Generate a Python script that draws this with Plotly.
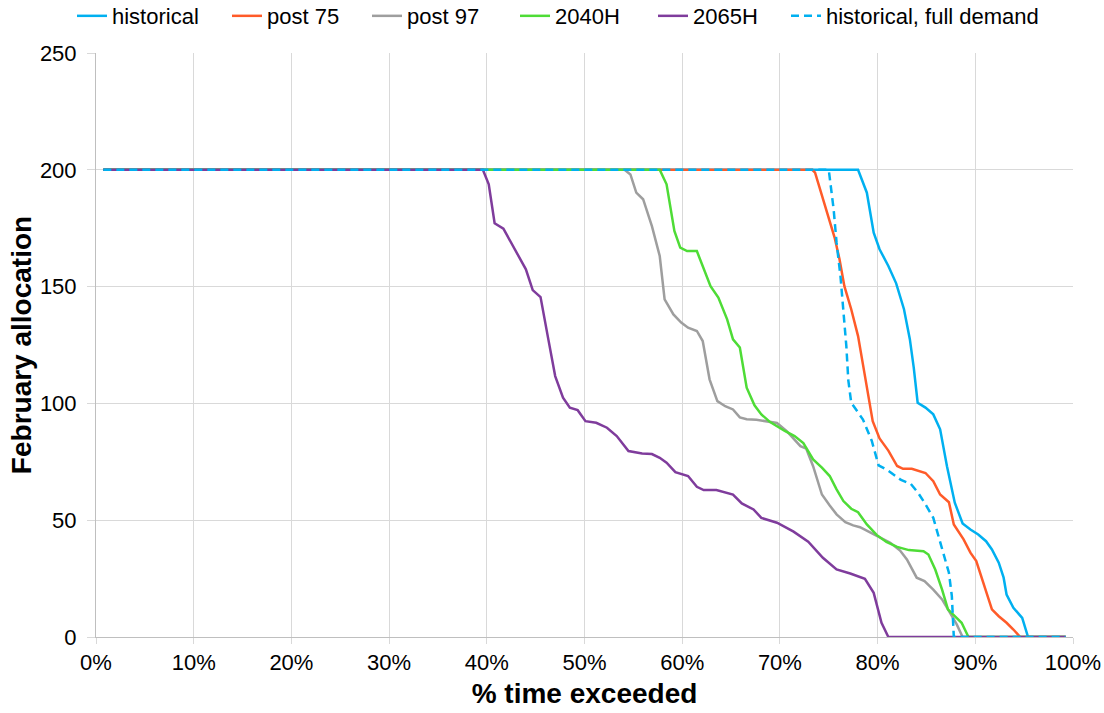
import plotly.graph_objects as go

# ---- data ----
historical_x = [0.75, 78.0, 78.9, 79.6, 80.2, 81.1, 81.9, 82.7, 83.3, 83.7, 84.1, 84.9, 85.7, 86.4, 87.1, 87.9, 88.7, 89.5, 90.3, 91.1, 91.7, 92.4, 92.9, 93.2, 93.9, 94.8, 95.4, 99.25]
historical_y = [200, 200, 190.2, 173.1, 166.0, 158.8, 151.4, 140.3, 127.5, 115.3, 100.3, 98.2, 95.3, 88.9, 73.1, 57.5, 48.6, 46.0, 43.9, 41.0, 37.5, 31.8, 25.4, 18.2, 12.5, 8.2, 0, 0]

post75_x = [0.75, 73.3, 73.6, 74.3, 75.0, 75.6, 76.1, 76.6, 77.3, 78.0, 78.5, 79.0, 79.5, 80.2, 81.1, 82.0, 82.6, 83.5, 84.9, 85.7, 86.4, 87.3, 87.8, 88.8, 89.5, 90.1, 90.8, 91.7, 92.4, 93.2, 93.9, 94.6, 99.25]
post75_y = [200, 200, 198.8, 188.8, 178.8, 171.0, 161.7, 150.2, 140.3, 128.8, 116.7, 104.6, 92.4, 85.0, 79.8, 73.2, 72.0, 72.0, 70.2, 66.7, 61.0, 57.7, 48.2, 41.8, 36.1, 32.5, 23.2, 11.8, 8.9, 6.1, 3.2, 0, 0]

post97_x = [0.75, 54.1, 54.7, 55.3, 56.0, 56.9, 57.7, 58.2, 59.1, 59.9, 60.6, 61.5, 62.1, 62.8, 63.6, 64.4, 65.2, 65.9, 66.6, 67.6, 69.7, 70.7, 72.1, 72.7, 73.4, 74.3, 75.1, 75.8, 76.7, 77.5, 78.2, 79.0, 79.9, 81.3, 82.3, 83.0, 84.0, 84.8, 85.7, 86.6, 87.4, 88.1, 88.7, 99.25]
post97_y = [200, 200, 198, 190.2, 187.4, 175.9, 163.1, 144.5, 138.1, 134.6, 132.4, 131.0, 126.7, 110.3, 101.0, 98.8, 97.4, 94.0, 93.2, 93.0, 91.6, 88.1, 81.7, 80.6, 73.1, 61.0, 56.3, 52.5, 49.2, 47.8, 47.0, 45.3, 43.2, 40.3, 37.0, 33.2, 25.4, 23.9, 20.3, 16.1, 10.4, 5.4, 0, 0]

h2040_x = [0.75, 57.7, 58.4, 58.8, 59.2, 59.8, 60.5, 61.5, 62.2, 62.9, 63.7, 64.6, 65.2, 65.9, 66.6, 67.4, 68.1, 69.0, 70.5, 71.5, 72.4, 73.4, 74.3, 75.1, 75.8, 76.5, 77.3, 78.0, 78.9, 79.9, 80.9, 82.0, 83.2, 84.7, 85.2, 85.9, 86.6, 87.2, 87.9, 88.6, 89.3, 99.25]
h2040_y = [200, 200, 193.8, 184.5, 173.8, 166.7, 165.2, 165.2, 157.4, 150.2, 145.3, 136.0, 127.4, 123.9, 106.7, 99.2, 95.3, 92.0, 88.2, 86.0, 83.0, 76.0, 72.5, 68.9, 63.2, 58.2, 54.9, 53.4, 48.2, 43.7, 40.7, 38.6, 37.2, 36.7, 35.3, 28.9, 20.3, 11.8, 8.9, 6.1, 0, 0]

h2065_x = [0.75, 39.6, 40.2, 40.8, 41.7, 42.5, 43.2, 44.0, 44.7, 45.5, 46.3, 47.0, 47.8, 48.5, 49.3, 50.1, 51.2, 52.3, 53.3, 54.5, 55.9, 56.9, 57.7, 58.4, 59.3, 60.6, 61.5, 62.2, 63.5, 65.2, 66.1, 67.3, 68.1, 69.7, 71.4, 72.9, 74.4, 75.8, 77.2, 78.7, 79.6, 80.4, 81.1, 99.25]
h2065_y = [200, 200, 193.8, 177.1, 174.8, 168.8, 163.1, 157.4, 148.5, 145.5, 127.4, 111.7, 102.4, 98.2, 97.1, 92.4, 91.7, 89.6, 86.0, 79.6, 78.6, 78.3, 76.7, 74.6, 70.6, 68.9, 64.3, 62.9, 62.9, 61.0, 57.2, 54.6, 51.0, 48.9, 45.1, 40.8, 33.9, 28.9, 27.2, 24.9, 18.9, 6.1, 0, 0]

fulldem_x = [0.75, 75.0, 75.5, 75.8, 76.2, 76.5, 76.8, 77.0, 77.3, 78.5, 79.4, 80.1, 81.1, 82.4, 83.4, 84.1, 84.8, 85.7, 86.2, 86.7, 87.3, 87.6, 87.8, 99.25]
fulldem_y = [200, 200, 183.1, 168.8, 154.5, 140.3, 124.5, 110.0, 100.3, 93.1, 84.0, 73.5, 71.2, 67.2, 65.5, 62.0, 57.5, 51.0, 44.0, 36.1, 27.5, 17.5, 0, 0]

x_ticks = [0, 10, 20, 30, 40, 50, 60, 70, 80, 90, 100]
x_tick_labels = ["0%", "10%", "20%", "30%", "40%", "50%", "60%", "70%", "80%", "90%", "100%"]
y_ticks = [0, 50, 100, 150, 200, 250]

series = [
    ("historical", historical_x, historical_y, "#00B0F0", "solid"),
    ("post 75", post75_x, post75_y, "#FF5B29", "solid"),
    ("post 97", post97_x, post97_y, "#9E9E9E", "solid"),
    ("2040H", h2040_x, h2040_y, "#4EDC36", "solid"),
    ("2065H", h2065_x, h2065_y, "#7F3C9C", "solid"),
    ("historical, full demand", fulldem_x, fulldem_y, "#00B0F0", "8px,5px"),
]

# legend text start pixel positions
legend_text_px = [113, 268, 408, 556, 694, 827]

W, H = 1104, 713
ml, mt = 96, 53
mr = W - 1073
mb = H - 637.5
pw = W - ml - mr
ph = H - mt - mb

FONT = "Liberation Sans, Arial, sans-serif"

fig = go.Figure()
layout_legends = {}
for i, (name, xs, ys, col, dash) in enumerate(series):
    lname = "legend" if i == 0 else f"legend{i+1}"
    fig.add_trace(go.Scatter(
        x=xs, y=ys, mode="lines", name=name,
        line=dict(color=col, width=2.5, dash=dash),
        legend=lname, hoverinfo="skip",
    ))
    left_px = legend_text_px[i] - 41
    layout_legends[lname] = dict(
        x=(left_px - ml) / pw, xanchor="left", xref="paper",
        y=(H - mb - 16) / ph, yanchor="middle", yref="paper",
        font=dict(family=FONT, size=22, color="#000000"),
        bgcolor="rgba(0,0,0,0)", borderwidth=0,
    )

fig.update_layout(
    width=W, height=H,
    margin=dict(l=ml, r=mr, t=mt, b=mb, autoexpand=False),
    paper_bgcolor="white", plot_bgcolor="white",
    showlegend=True,
    font=dict(family=FONT, color="#000000"),
    **layout_legends,
)

fig.update_xaxes(
    range=[0, 100], tickvals=x_ticks, ticktext=x_tick_labels,
    showgrid=True, gridcolor="#D9D9D9", gridwidth=1,
    showline=True, linecolor="#BFBFBF", linewidth=1,
    ticks="outside", ticklen=6, tickcolor="#D9D9D9",
    tickfont=dict(family=FONT, size=22, color="#000000"),
    ticklabeloverflow="allow",
    zeroline=False, automargin=False,
    title=dict(text="<b>% time exceeded</b>", font=dict(family=FONT, size=28, color="#000000"), standoff=8),
)
fig.update_yaxes(
    range=[0, 250], tickvals=y_ticks,
    showgrid=True, gridcolor="#D9D9D9", gridwidth=1,
    showline=True, linecolor="#BFBFBF", linewidth=1,
    ticks="outside", ticklen=8, tickcolor="#D9D9D9",
    tickfont=dict(family=FONT, size=22, color="#000000"),
    ticklabelstandoff=6, ticklabeloverflow="allow",
    zeroline=False, automargin=False,
    title=dict(text="<b>February allocation</b>", font=dict(family=FONT, size=28, color="#000000"), standoff=0),
)

fig.write_html(
    "out.html",
    config={"displayModeBar": False, "staticPlot": True},
    post_script="document.body.style.margin='0';document.body.style.overflow='hidden';",
)
